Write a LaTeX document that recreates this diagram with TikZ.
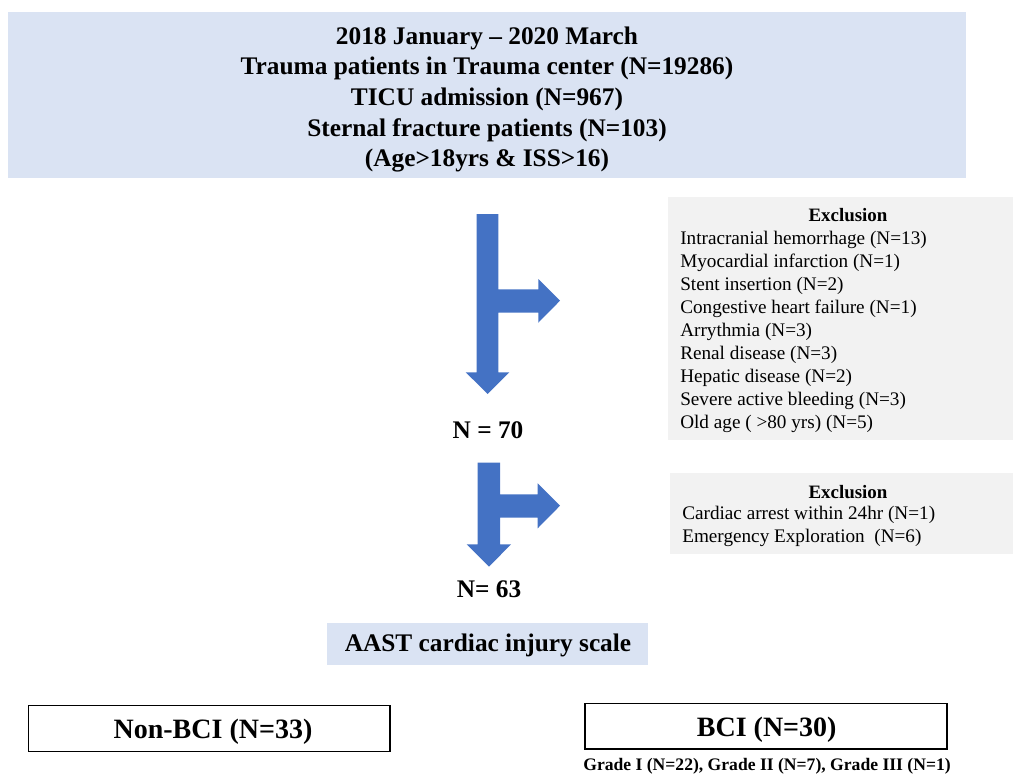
\documentclass[tikz,border=0pt]{standalone}
\usepackage{fontspec}
\setmainfont{Liberation Serif}
\definecolor{lblue}{HTML}{DAE3F3}
\definecolor{lgray}{HTML}{F2F2F2}
\definecolor{arrblue}{HTML}{4472C4}
\begin{document}
\begin{tikzpicture}[x=0.75pt,y=-0.75pt,
  bluebox/.style={fill=lblue,draw=none},
  graybox/.style={fill=lgray,draw=none},
  outbox/.style={draw=black,line width=1.2pt,fill=white},
  blockarrow/.style={fill=arrblue,draw=none},
  toptext/.style={font=\bfseries\fontsize{19pt}{22.9pt}\selectfont,align=center},
  exhead/.style={font=\bfseries\fontsize{14.2pt}{17pt}\selectfont},
  exline/.style={font=\fontsize{14.4pt}{17.25pt}\selectfont,align=left,anchor=north west},
  ntext/.style={font=\bfseries\fontsize{19pt}{23pt}\selectfont},
  bigtext/.style={font=\bfseries\fontsize{21pt}{25pt}\selectfont,anchor=base}
]
\useasboundingbox (0,0) rectangle (1013,774);
% top box
\fill[bluebox] (8,12) rectangle (966,178);
\node[toptext] (top) at (487,99.5) {2018 January -- 2020 March\\Trauma patients in Trauma center (N=19286)\\TICU admission (N=967)\\Sternal fracture patients (N=103)\\(Age>18yrs \& ISS>16)};
% arrow 1
\fill[blockarrow] (476.7,214) -- (498.3,214) -- (498.3,289.3) -- (538.3,289.3) -- (538.3,279) -- (560,300.7) -- (538.3,322.7) -- (538.3,312.7) -- (498.3,312.7) -- (498.3,372.3) -- (509.3,372.3) -- (487.7,394) -- (465.7,372.3) -- (476.7,372.3) -- cycle;
% arrow 2
\fill[blockarrow] (477.7,462.7) -- (500,462.7) -- (500,494.3) -- (537.7,494.3) -- (537.7,483.3) -- (560,505.7) -- (537.7,528.3) -- (537.7,517.7) -- (500,517.7) -- (500,544.3) -- (511,544.3) -- (489,566.7) -- (466.7,544.3) -- (477.7,544.3) -- cycle;
% exclusion 1
\fill[graybox] (668,197) rectangle (1013,439.5);
\node[exhead] (ex1h) at (848,215.5) {Exclusion};
\node[exline,inner sep=0pt] (ex1) at (680,230.5) {Intracranial hemorrhage (N=13)\\Myocardial infarction (N=1)\\Stent insertion (N=2)\\Congestive heart failure (N=1)\\Arrythmia (N=3)\\Renal disease (N=3)\\Hepatic disease (N=2)\\Severe active bleeding (N=3)\\Old age ( >80 yrs) (N=5)};
% exclusion 2
\fill[graybox] (670,473.3) rectangle (1013,554.3);
\node[exhead] (ex2h) at (848,492) {Exclusion};
\node[exline,inner sep=0pt] (ex2) at (682,506) {Cardiac arrest within 24hr (N=1)\\Emergency Exploration\ \ (N=6)};
% N labels
\node[ntext] (n70) at (488,430) {N = 70};
\node[ntext] (n63) at (489,589) {N= 63};
% AAST
\fill[bluebox] (327.3,623.3) rectangle (648.3,665);
\node[ntext] (aast) at (488,645) {AAST cardiac injury scale};
% bottom boxes
\draw[outbox] (28.3,705.5) rectangle (390,751.5);
\node[bigtext] (nonbci) at (213,738.3) {Non-BCI (N=33)};
\draw[outbox] (585,703.3) rectangle (946.7,749);
\node[bigtext] (bci) at (766.7,736.7) {BCI (N=30)};
\node[font=\bfseries\fontsize{13.2pt}{16pt}\selectfont,anchor=base] (grade) at (767,770) {Grade I (N=22), Grade II (N=7), Grade III (N=1)};
\end{tikzpicture}
\end{document}
